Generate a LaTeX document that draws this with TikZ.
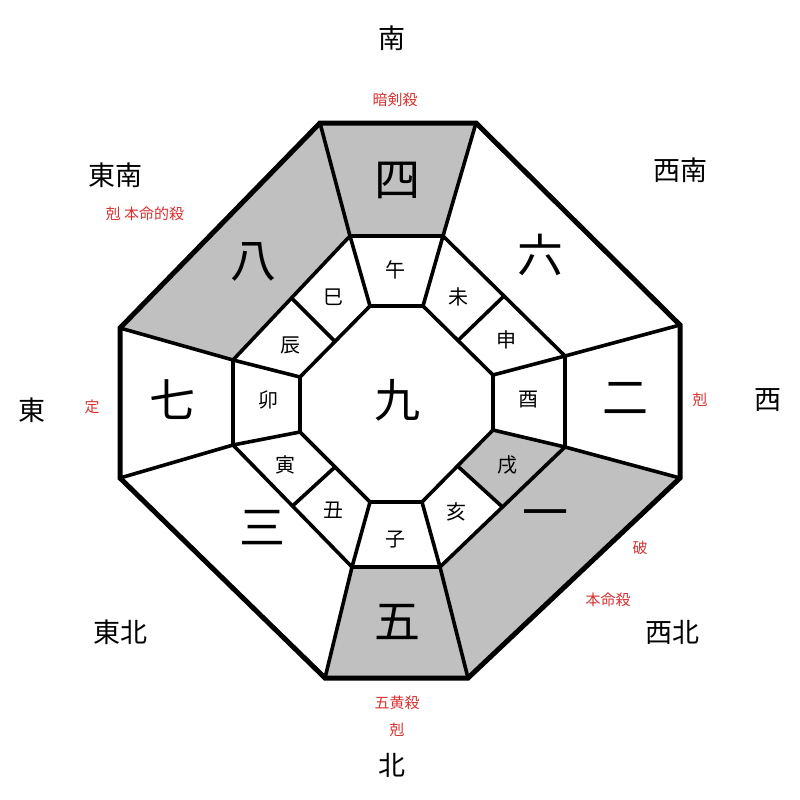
\documentclass[tikz,border=0pt]{standalone}
\usepackage{fontspec}
\setmainfont{Noto Sans CJK JP}
\usetikzlibrary{calc}
\begin{document}
\begin{tikzpicture}[x=1pt,y=-1pt,
  big/.style={font=\fontsize{46}{46}\selectfont},
  br/.style={font=\fontsize{20}{20}\selectfont},
  dir/.style={font=\fontsize{27}{27}\selectfont},
  red/.style={font=\fontsize{15}{15}\selectfont,text=rd},
  seg/.style={line width=3.6pt, line join=round}]
\definecolor{rd}{RGB}{215,50,50}
\definecolor{gr}{RGB}{192,192,192}
\useasboundingbox (0,0) rectangle (800,800);
% outer
\coordinate (o1) at (320,123); \coordinate (o2) at (476,123);
\coordinate (o3) at (680,325); \coordinate (o4) at (680,478);
\coordinate (o5) at (468,678); \coordinate (o6) at (325,678);
\coordinate (o7) at (120,478); \coordinate (o8) at (120,328);
% middle
\coordinate (m1) at (350,236); \coordinate (m2) at (443,236);
\coordinate (m3) at (565,356); \coordinate (m4) at (565,447);
\coordinate (m5) at (440,567); \coordinate (m6) at (352,567);
\coordinate (m7) at (233,445); \coordinate (m8) at (233,360);
% inner
\coordinate (i1) at (370,306); \coordinate (i2) at (423,306);
\coordinate (i3) at (493,375); \coordinate (i4) at (493,430);
\coordinate (i5) at (422,502); \coordinate (i6) at (370,502);
\coordinate (i7) at (300,432); \coordinate (i8) at (300,377);
% gray fills
\fill[gr] (o1)--(o2)--(m2)--(m1)--cycle;
\fill[gr] (o8)--(o1)--(m1)--(m8)--cycle;
\fill[gr] (o4)--(o5)--(m5)--(m4)--cycle;
\fill[gr] (o5)--(o6)--(m6)--(m5)--cycle;
\fill[gr] (m4)--(i4)--($(i4)!0.5!(i5)$)--($(m4)!0.5!(m5)$)--cycle;
% lines
\draw[seg] (m1)--(m2)--(m3)--(m4)--(m5)--(m6)--(m7)--(m8)--cycle;
\draw[seg] (i1)--(i2)--(i3)--(i4)--(i5)--(i6)--(i7)--(i8)--cycle;
\foreach \k in {1,...,8} {\draw[seg] (o\k)--(m\k); \draw[seg] (i\k)--(m\k);}
\foreach \a/\b in {2/3,4/5,6/7,8/1} {\draw[seg] ($(m\a)!0.5!(m\b)$)--($(i\a)!0.5!(i\b)$);}
\draw[line width=5pt, line join=miter] (o1)--(o2)--(o3)--(o4)--(o5)--(o6)--(o7)--(o8)--cycle;
% big numbers
\node[big] (n4) at (397,180) {四};
\node[big] (n6) at (540,255) {六};
\node[big] (n2) at (625,398) {二};
\node[big] (n1) at (545,520) {一};
\node[big] (n5) at (397,622) {五};
\node[big] (n3) at (262,528) {三};
\node[big] (n7) at (172,400) {七};
\node[big] (n8) at (253,262) {八};
\node[big] (n9) at (397,400) {九};
% branches
\node[br] (b1) at (395,270) {午};
\node[br] (b2) at (458,297) {未};
\node[br] (b3) at (506,340) {申};
\node[br] (b4) at (528,400) {酉};
\node[br] (b5) at (507,465) {戌};
\node[br] (b6) at (456,512) {亥};
\node[br] (b7) at (395,540) {子};
\node[br] (b8) at (333,510) {丑};
\node[br] (b9) at (285,465) {寅};
\node[br] (b10) at (268,400) {卯};
\node[br] (b11) at (290,345) {辰};
\node[br] (b12) at (333,297) {巳};
% directions
\node[dir] (dS) at (392,38) {南};
\node[dir] (dSE) at (115,175) {東南};
\node[dir] (dSW) at (680,170) {西南};
\node[dir] (dE) at (32,410) {東};
\node[dir] (dW) at (768,400) {西};
\node[dir] (dNE) at (120,632) {東北};
\node[dir] (dNW) at (672,632) {西北};
\node[dir] (dN) at (392,765) {北};
% red labels
\node[red] (r1) at (395,100) {暗剣殺};
\node[red] (r2) at (145,214) {剋 本命的殺};
\node[red] (r3) at (92,407) {定};
\node[red] (r4) at (700,400) {剋};
\node[red] (r5) at (640,548) {破};
\node[red] (r6) at (608,600) {本命殺};
\node[red] (r7) at (397,703) {五黄殺};
\node[red] (r8) at (397,730) {剋};
\end{tikzpicture}
\end{document}
